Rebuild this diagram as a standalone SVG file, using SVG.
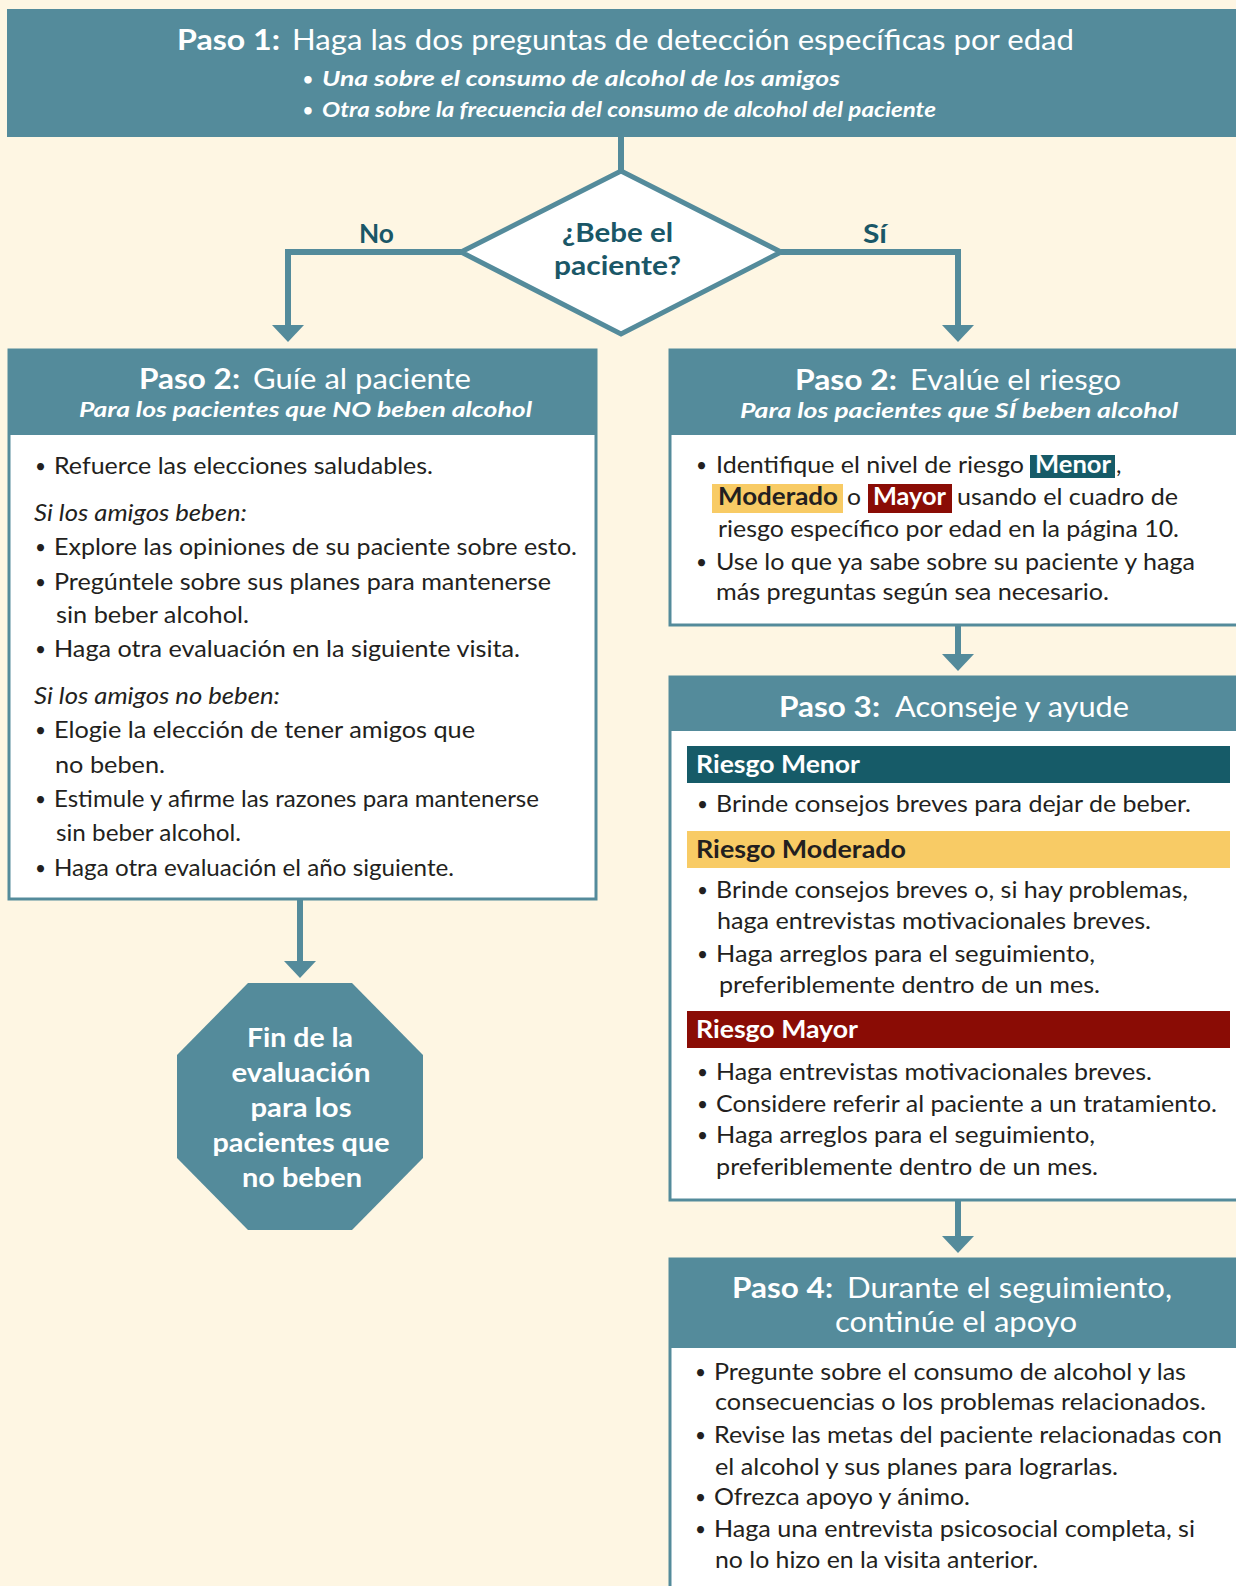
<svg xmlns="http://www.w3.org/2000/svg" width="1236" height="1586" viewBox="0 0 1236 1586">
<defs>
<style>
text{font-family:Lato,"Liberation Sans",sans-serif;}
.hdr{fill:#548B9B;}
.box{fill:#ffffff;stroke:#548B9B;stroke-width:3;}
.ttl{font-size:29px;fill:#ffffff;}
.b{font-weight:bold;}
.sub{font-size:21px;font-weight:bold;font-style:italic;fill:#ffffff;}
.bd{font-size:24px;fill:#231F20;}
.dot{font-size:19px;fill:#231F20;}
.hdot{font-size:17px;font-weight:bold;fill:#ffffff;}
.it{font-style:italic;}
.lbl{font-size:26px;font-weight:bold;fill:#1A5767;}
.bar{font-size:24px;font-weight:bold;}
.oct{font-size:27px;font-weight:bold;fill:#ffffff;text-anchor:middle;}
.con{fill:none;stroke:#548B9B;stroke-width:6;marker-end:url(#arr);}
</style>
<marker id="arr" markerUnits="userSpaceOnUse" markerWidth="20" markerHeight="34" viewBox="0 -17 18 34" refX="0" refY="0" orient="auto">
<path d="M0,-16 L17,0 L0,16 z" fill="#548B9B"/>
</marker>
</defs>
<rect x="0" y="0" width="1236" height="1586" fill="#FEF6E3"/>

<g id="connectors">
<path class="con" d="M621,137 V171" style="marker-end:none"/>
<path class="con" d="M461,252 H288 V325"/>
<path class="con" d="M781,252 H958 V325"/>
<path class="con" d="M958,625 V654"/>
<path class="con" d="M958,1200 V1236"/>
<path class="con" d="M300,899 V961"/>
</g>

<g id="paso1">
<rect class="hdr" x="7" y="9" width="1240" height="128"/>
<text class="ttl b" x="177" y="50" textLength="103" lengthAdjust="spacingAndGlyphs">Paso 1:</text>
<text class="ttl" x="292" y="50" textLength="782" lengthAdjust="spacingAndGlyphs">Haga las dos preguntas de detección específicas por edad</text>
<text class="hdot" x="303" y="85">•</text>
<text class="sub" x="322" y="86" textLength="518" lengthAdjust="spacingAndGlyphs">Una sobre el consumo de alcohol de los amigos</text>
<text class="hdot" x="303" y="116">•</text>
<text class="sub" x="322" y="117" textLength="614" lengthAdjust="spacingAndGlyphs">Otra sobre la frecuencia del consumo de alcohol del paciente</text>
</g>

<g id="decision">
<polygon points="621,171 781,252 621,334 461,252" fill="#ffffff" stroke="#548B9B" stroke-width="5" stroke-linejoin="miter"/>
<text class="lbl" x="562" y="242" textLength="111" lengthAdjust="spacingAndGlyphs">¿Bebe el</text>
<text class="lbl" x="554" y="275" textLength="127" lengthAdjust="spacingAndGlyphs">paciente?</text>
</g>
<g id="label-no"><text class="lbl" x="359" y="243" textLength="35" lengthAdjust="spacingAndGlyphs">No</text></g>
<g id="label-si"><text class="lbl" x="863" y="243" textLength="24" lengthAdjust="spacingAndGlyphs">Sí</text></g>

<g id="paso2-no">
<rect class="box" x="9" y="350" width="587" height="549"/>
<rect class="hdr" x="9" y="350" width="587" height="85"/>
<text class="ttl b" x="139" y="389" textLength="101" lengthAdjust="spacingAndGlyphs">Paso 2:</text>
<text class="ttl" x="253" y="389" textLength="218" lengthAdjust="spacingAndGlyphs">Guíe al paciente</text>
<text class="sub" x="79" y="417" textLength="453" lengthAdjust="spacingAndGlyphs">Para los pacientes que NO beben alcohol</text>
<text class="dot" x="35" y="473">•</text>
<text class="bd" x="54" y="474" textLength="379" lengthAdjust="spacingAndGlyphs">Refuerce las elecciones saludables.</text>
<text class="bd it" x="34" y="521" textLength="213" lengthAdjust="spacingAndGlyphs">Si los amigos beben:</text>
<text class="dot" x="35" y="554">•</text>
<text class="bd" x="54" y="555" textLength="523" lengthAdjust="spacingAndGlyphs">Explore las opiniones de su paciente sobre esto.</text>
<text class="dot" x="35" y="589">•</text>
<text class="bd" x="54" y="590" textLength="497" lengthAdjust="spacingAndGlyphs">Pregúntele sobre sus planes para mantenerse</text>
<text class="bd" x="56" y="623" textLength="193" lengthAdjust="spacingAndGlyphs">sin beber alcohol.</text>
<text class="dot" x="35" y="656">•</text>
<text class="bd" x="54" y="657" textLength="466" lengthAdjust="spacingAndGlyphs">Haga otra evaluación en la siguiente visita.</text>
<text class="bd it" x="34" y="704" textLength="246" lengthAdjust="spacingAndGlyphs">Si los amigos no beben:</text>
<text class="dot" x="35" y="737">•</text>
<text class="bd" x="54" y="738" textLength="421" lengthAdjust="spacingAndGlyphs">Elogie la elección de tener amigos que</text>
<text class="bd" x="55" y="773" textLength="110" lengthAdjust="spacingAndGlyphs">no beben.</text>
<text class="dot" x="35" y="806">•</text>
<text class="bd" x="54" y="807" textLength="485" lengthAdjust="spacingAndGlyphs">Estimule y afirme las razones para mantenerse</text>
<text class="bd" x="56" y="841" textLength="185" lengthAdjust="spacingAndGlyphs">sin beber alcohol.</text>
<text class="dot" x="35" y="875">•</text>
<text class="bd" x="54" y="876" textLength="400" lengthAdjust="spacingAndGlyphs">Haga otra evaluación el año siguiente.</text>
</g>

<g id="fin">
<polygon points="248,983 352,983 423,1055 423,1158 352,1230 248,1230 177,1158 177,1055" fill="#548B9B"/>
<text class="oct" x="300" y="1047" textLength="106" lengthAdjust="spacingAndGlyphs">Fin de la</text>
<text class="oct" x="301" y="1082" textLength="139" lengthAdjust="spacingAndGlyphs">evaluación</text>
<text class="oct" x="301" y="1117" textLength="101" lengthAdjust="spacingAndGlyphs">para los</text>
<text class="oct" x="301" y="1152" textLength="177" lengthAdjust="spacingAndGlyphs">pacientes que</text>
<text class="oct" x="302" y="1187" textLength="120" lengthAdjust="spacingAndGlyphs">no beben</text>
</g>

<g id="paso2-si">
<rect class="box" x="670" y="350" width="600" height="275"/>
<rect class="hdr" x="670" y="350" width="600" height="85"/>
<text class="ttl b" x="795" y="390" textLength="102" lengthAdjust="spacingAndGlyphs">Paso 2:</text>
<text class="ttl" x="910" y="390" textLength="211" lengthAdjust="spacingAndGlyphs">Evalúe el riesgo</text>
<text class="sub" x="740" y="418" textLength="438" lengthAdjust="spacingAndGlyphs">Para los pacientes que SÍ beben alcohol</text>
<text class="dot" x="696" y="472">•</text>
<text class="bd" x="716" y="473" textLength="308" lengthAdjust="spacingAndGlyphs">Identifique el nivel de riesgo</text>
<rect x="1030" y="455" width="85" height="23" fill="#165B68"/>
<text class="bd b" x="1035" y="473" textLength="76" lengthAdjust="spacingAndGlyphs" style="fill:#ffffff">Menor</text>
<text class="bd" x="1116" y="473">,</text>
<rect x="712" y="484" width="131" height="29" fill="#F8CB65"/>
<text class="bd b" x="718" y="505" textLength="120" lengthAdjust="spacingAndGlyphs">Moderado</text>
<text class="bd" x="847" y="505" textLength="14" lengthAdjust="spacingAndGlyphs">o</text>
<rect x="868" y="484" width="84" height="29" fill="#8A0C05"/>
<text class="bd b" x="873" y="505" textLength="73" lengthAdjust="spacingAndGlyphs" style="fill:#ffffff">Mayor</text>
<text class="bd" x="957" y="505" textLength="221" lengthAdjust="spacingAndGlyphs">usando el cuadro de</text>
<text class="bd" x="718" y="537" textLength="461" lengthAdjust="spacingAndGlyphs">riesgo específico por edad en la página 10.</text>
<text class="dot" x="696" y="569">•</text>
<text class="bd" x="716" y="570" textLength="479" lengthAdjust="spacingAndGlyphs">Use lo que ya sabe sobre su paciente y haga</text>
<text class="bd" x="716" y="600" textLength="393" lengthAdjust="spacingAndGlyphs">más preguntas según sea necesario.</text>
</g>

<g id="paso3">
<rect class="box" x="670" y="677" width="600" height="523"/>
<rect class="hdr" x="670" y="677" width="600" height="54"/>
<text class="ttl b" x="779" y="717" textLength="101" lengthAdjust="spacingAndGlyphs">Paso 3:</text>
<text class="ttl" x="895" y="717" textLength="234" lengthAdjust="spacingAndGlyphs">Aconseje y ayude</text>
<rect x="687" y="746" width="543" height="37" fill="#165B68"/>
<text class="bar" x="696" y="773" textLength="164" lengthAdjust="spacingAndGlyphs" fill="#ffffff">Riesgo Menor</text>
<text class="dot" x="697" y="811">•</text>
<text class="bd" x="716" y="812" textLength="475" lengthAdjust="spacingAndGlyphs">Brinde consejos breves para dejar de beber.</text>
<rect x="687" y="831" width="543" height="37" fill="#F8CB65"/>
<text class="bar" x="696" y="858" textLength="210" lengthAdjust="spacingAndGlyphs" fill="#231F20">Riesgo Moderado</text>
<text class="dot" x="697" y="897">•</text>
<text class="bd" x="716" y="898" textLength="472" lengthAdjust="spacingAndGlyphs">Brinde consejos breves o, si hay problemas,</text>
<text class="bd" x="717" y="929" textLength="434" lengthAdjust="spacingAndGlyphs">haga entrevistas motivacionales breves.</text>
<text class="dot" x="697" y="961">•</text>
<text class="bd" x="716" y="962" textLength="379" lengthAdjust="spacingAndGlyphs">Haga arreglos para el seguimiento,</text>
<text class="bd" x="719" y="993" textLength="381" lengthAdjust="spacingAndGlyphs">preferiblemente dentro de un mes.</text>
<rect x="687" y="1011" width="543" height="37" fill="#8A0C05"/>
<text class="bar" x="696" y="1038" textLength="162" lengthAdjust="spacingAndGlyphs" fill="#ffffff">Riesgo Mayor</text>
<text class="dot" x="697" y="1079">•</text>
<text class="bd" x="716" y="1080" textLength="436" lengthAdjust="spacingAndGlyphs">Haga entrevistas motivacionales breves.</text>
<text class="dot" x="697" y="1111">•</text>
<text class="bd" x="716" y="1112" textLength="501" lengthAdjust="spacingAndGlyphs">Considere referir al paciente a un tratamiento.</text>
<text class="dot" x="697" y="1142">•</text>
<text class="bd" x="716" y="1143" textLength="379" lengthAdjust="spacingAndGlyphs">Haga arreglos para el seguimiento,</text>
<text class="bd" x="716" y="1175" textLength="382" lengthAdjust="spacingAndGlyphs">preferiblemente dentro de un mes.</text>
</g>

<g id="paso4">
<rect class="box" x="670" y="1259" width="600" height="400"/>
<rect class="hdr" x="670" y="1259" width="600" height="89"/>
<text class="ttl b" x="732" y="1298" textLength="101" lengthAdjust="spacingAndGlyphs">Paso 4:</text>
<text class="ttl" x="847" y="1298" textLength="325" lengthAdjust="spacingAndGlyphs">Durante el seguimiento,</text>
<text class="ttl" x="835" y="1332" textLength="242" lengthAdjust="spacingAndGlyphs">continúe el apoyo</text>
<text class="dot" x="695" y="1379">•</text>
<text class="bd" x="714" y="1380" textLength="472" lengthAdjust="spacingAndGlyphs">Pregunte sobre el consumo de alcohol y las</text>
<text class="bd" x="715" y="1410" textLength="491" lengthAdjust="spacingAndGlyphs">consecuencias o los problemas relacionados.</text>
<text class="dot" x="695" y="1442">•</text>
<text class="bd" x="714" y="1443" textLength="508" lengthAdjust="spacingAndGlyphs">Revise las metas del paciente relacionadas con</text>
<text class="bd" x="715" y="1475" textLength="403" lengthAdjust="spacingAndGlyphs">el alcohol y sus planes para lograrlas.</text>
<text class="dot" x="695" y="1504">•</text>
<text class="bd" x="714" y="1505" textLength="256" lengthAdjust="spacingAndGlyphs">Ofrezca apoyo y ánimo.</text>
<text class="dot" x="695" y="1536">•</text>
<text class="bd" x="714" y="1537" textLength="481" lengthAdjust="spacingAndGlyphs">Haga una entrevista psicosocial completa, si</text>
<text class="bd" x="715" y="1568" textLength="323" lengthAdjust="spacingAndGlyphs">no lo hizo en la visita anterior.</text>
</g>
</svg>
